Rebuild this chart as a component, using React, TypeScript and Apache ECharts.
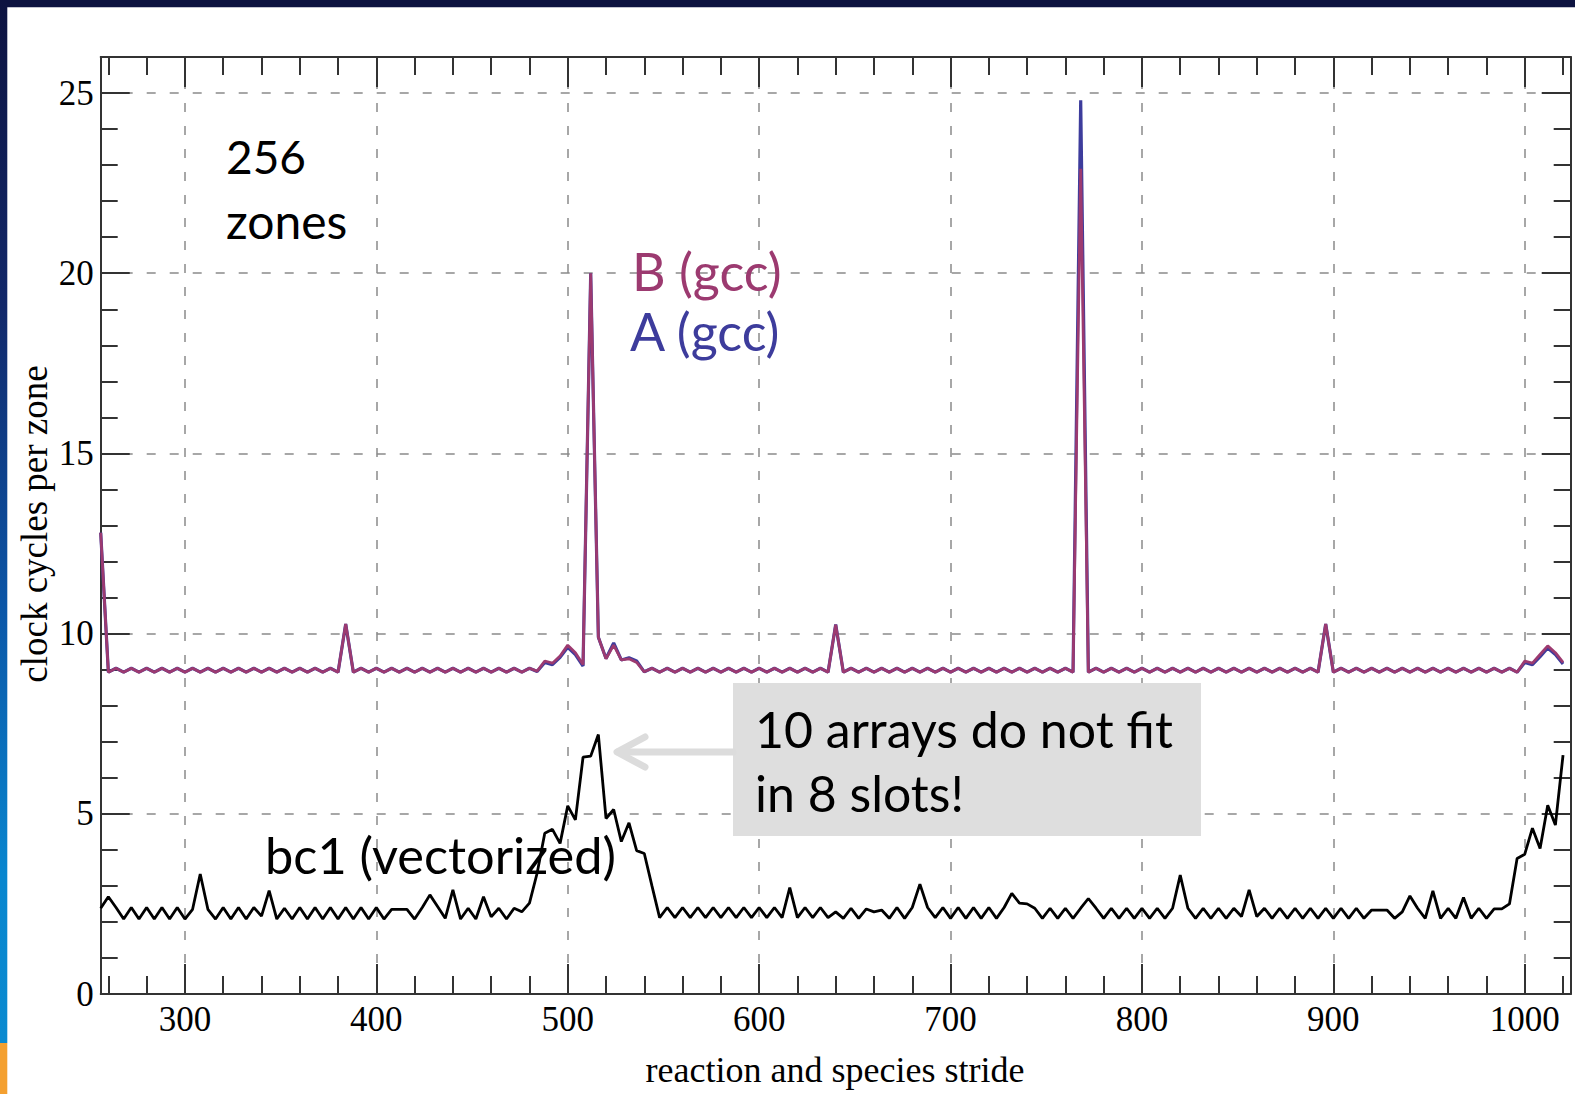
import React, { useEffect, useRef } from "react";
import * as echarts from "echarts";

// reaction and species stride (x)
const strides = [
  256, 260, 264, 268, 272, 276, 280, 284,
  288, 292, 296, 300, 304, 308, 312, 316,
  320, 324, 328, 332, 336, 340, 344, 348,
  352, 356, 360, 364, 368, 372, 376, 380,
  384, 388, 392, 396, 400, 404, 408, 412,
  416, 420, 424, 428, 432, 436, 440, 444,
  448, 452, 456, 460, 464, 468, 472, 476,
  480, 484, 488, 492, 496, 500, 504, 508,
  512, 516, 520, 524, 528, 532, 536, 540,
  544, 548, 552, 556, 560, 564, 568, 572,
  576, 580, 584, 588, 592, 596, 600, 604,
  608, 612, 616, 620, 624, 628, 632, 636,
  640, 644, 648, 652, 656, 660, 664, 668,
  672, 676, 680, 684, 688, 692, 696, 700,
  704, 708, 712, 716, 720, 724, 728, 732,
  736, 740, 744, 748, 752, 756, 760, 764,
  768, 772, 776, 780, 784, 788, 792, 796,
  800, 804, 808, 812, 816, 820, 824, 828,
  832, 836, 840, 844, 848, 852, 856, 860,
  864, 868, 872, 876, 880, 884, 888, 892,
  896, 900, 904, 908, 912, 916, 920, 924,
  928, 932, 936, 940, 944, 948, 952, 956,
  960, 964, 968, 972, 976, 980, 984, 988,
  992, 996, 1000, 1004, 1008, 1012, 1016, 1020,
];

// A (gcc)
const gccA = [
  12.8, 8.93, 9.04, 8.93, 9.04, 8.93, 9.04, 8.93,
  9.04, 8.93, 9.04, 8.93, 9.04, 8.93, 9.04, 8.93,
  9.04, 8.93, 9.04, 8.93, 9.04, 8.93, 9.04, 8.93,
  9.04, 8.93, 9.04, 8.93, 9.04, 8.93, 9.04, 8.93,
  10.27, 8.93, 9.04, 8.93, 9.04, 8.93, 9.04, 8.93,
  9.04, 8.93, 9.04, 8.93, 9.04, 8.93, 9.04, 8.93,
  9.04, 8.93, 9.04, 8.93, 9.04, 8.93, 9.04, 8.93,
  9.04, 8.95, 9.2, 9.14, 9.34, 9.62, 9.42, 9.1,
  20.0, 9.9, 9.31, 9.74, 9.27, 9.33, 9.24, 8.94,
  9.04, 8.93, 9.04, 8.93, 9.04, 8.93, 9.04, 8.93,
  9.04, 8.93, 9.04, 8.93, 9.04, 8.93, 9.04, 8.93,
  9.04, 8.93, 9.04, 8.93, 9.04, 8.93, 9.04, 8.93,
  10.25, 8.93, 9.04, 8.93, 9.04, 8.93, 9.04, 8.93,
  9.04, 8.93, 9.04, 8.93, 9.04, 8.93, 9.04, 8.93,
  9.04, 8.93, 9.04, 8.93, 9.04, 8.93, 9.04, 8.93,
  9.04, 8.93, 9.04, 8.93, 9.04, 8.93, 9.04, 8.93,
  24.8, 8.93, 9.04, 8.93, 9.04, 8.93, 9.04, 8.93,
  9.04, 8.93, 9.04, 8.93, 9.04, 8.93, 9.04, 8.93,
  9.04, 8.93, 9.04, 8.93, 9.04, 8.93, 9.04, 8.93,
  9.04, 8.93, 9.04, 8.93, 9.04, 8.93, 9.04, 8.93,
  10.27, 8.93, 9.04, 8.93, 9.04, 8.93, 9.04, 8.93,
  9.04, 8.93, 9.04, 8.93, 9.04, 8.93, 9.04, 8.93,
  9.04, 8.93, 9.04, 8.93, 9.04, 8.93, 9.04, 8.93,
  9.04, 8.93, 9.2, 9.14, 9.36, 9.6, 9.42, 9.16,
];

// B (gcc)
const gccB = [
  12.8, 8.93, 9.04, 8.93, 9.04, 8.93, 9.04, 8.93,
  9.04, 8.93, 9.04, 8.93, 9.04, 8.93, 9.04, 8.93,
  9.04, 8.93, 9.04, 8.93, 9.04, 8.93, 9.04, 8.93,
  9.04, 8.93, 9.04, 8.93, 9.04, 8.93, 9.04, 8.93,
  10.27, 8.93, 9.04, 8.93, 9.04, 8.93, 9.04, 8.93,
  9.04, 8.93, 9.04, 8.93, 9.04, 8.93, 9.04, 8.93,
  9.04, 8.93, 9.04, 8.93, 9.04, 8.93, 9.04, 8.93,
  9.04, 8.96, 9.24, 9.18, 9.38, 9.68, 9.47, 9.14,
  20.0, 9.9, 9.3, 9.68, 9.27, 9.3, 9.2, 8.94,
  9.04, 8.93, 9.04, 8.93, 9.04, 8.93, 9.04, 8.93,
  9.04, 8.93, 9.04, 8.93, 9.04, 8.93, 9.04, 8.93,
  9.04, 8.93, 9.04, 8.93, 9.04, 8.93, 9.04, 8.93,
  10.25, 8.93, 9.04, 8.93, 9.04, 8.93, 9.04, 8.93,
  9.04, 8.93, 9.04, 8.93, 9.04, 8.93, 9.04, 8.93,
  9.04, 8.93, 9.04, 8.93, 9.04, 8.93, 9.04, 8.93,
  9.04, 8.93, 9.04, 8.93, 9.04, 8.93, 9.04, 8.93,
  22.9, 8.93, 9.04, 8.93, 9.04, 8.93, 9.04, 8.93,
  9.04, 8.93, 9.04, 8.93, 9.04, 8.93, 9.04, 8.93,
  9.04, 8.93, 9.04, 8.93, 9.04, 8.93, 9.04, 8.93,
  9.04, 8.93, 9.04, 8.93, 9.04, 8.93, 9.04, 8.93,
  10.27, 8.93, 9.04, 8.93, 9.04, 8.93, 9.04, 8.93,
  9.04, 8.93, 9.04, 8.93, 9.04, 8.93, 9.04, 8.93,
  9.04, 8.93, 9.04, 8.93, 9.04, 8.93, 9.04, 8.93,
  9.04, 8.93, 9.24, 9.18, 9.42, 9.66, 9.47, 9.2,
];

// bc1 (vectorized)
const bc1 = [
  2.38, 2.7, 2.4, 2.08, 2.4, 2.08, 2.4, 2.08,
  2.4, 2.08, 2.4, 2.08, 2.35, 3.33, 2.35, 2.08,
  2.4, 2.08, 2.4, 2.08, 2.4, 2.16, 2.87, 2.08,
  2.38, 2.08, 2.4, 2.08, 2.4, 2.08, 2.4, 2.08,
  2.4, 2.08, 2.4, 2.08, 2.4, 2.08, 2.35, 2.35,
  2.35, 2.08, 2.4, 2.75, 2.43, 2.1, 2.89, 2.08,
  2.38, 2.08, 2.7, 2.14, 2.38, 2.08, 2.38, 2.28,
  2.52, 3.35, 4.46, 4.57, 4.18, 5.22, 4.83, 6.57,
  6.6, 7.2, 4.87, 5.12, 4.23, 4.75, 3.98, 3.9,
  3.0, 2.12, 2.4, 2.12, 2.4, 2.12, 2.4, 2.12,
  2.4, 2.12, 2.4, 2.12, 2.4, 2.12, 2.4, 2.12,
  2.4, 2.12, 2.95, 2.12, 2.4, 2.12, 2.4, 2.12,
  2.28, 2.1, 2.38, 2.1, 2.36, 2.28, 2.33, 2.1,
  2.4, 2.1, 2.4, 3.05, 2.4, 2.12, 2.4, 2.1,
  2.4, 2.1, 2.4, 2.1, 2.4, 2.1, 2.4, 2.79,
  2.52, 2.5, 2.38, 2.1, 2.38, 2.1, 2.38, 2.1,
  2.38, 2.65, 2.38, 2.1, 2.38, 2.1, 2.38, 2.1,
  2.38, 2.1, 2.38, 2.1, 2.38, 3.3, 2.38, 2.1,
  2.38, 2.1, 2.38, 2.1, 2.38, 2.15, 2.89, 2.15,
  2.38, 2.1, 2.38, 2.1, 2.38, 2.1, 2.38, 2.1,
  2.38, 2.1, 2.38, 2.1, 2.38, 2.1, 2.33, 2.33,
  2.33, 2.1, 2.28, 2.72, 2.38, 2.1, 2.86, 2.1,
  2.38, 2.1, 2.68, 2.1, 2.38, 2.1, 2.36, 2.36,
  2.5, 3.76, 3.88, 4.6, 4.04, 5.24, 4.69, 6.63,
];

const xMajorTicks = [300, 400, 500, 600, 700, 800, 900, 1000];
const xMinorTicks = [
  260, 280, 320, 340, 360, 380, 420, 440, 460, 480, 520, 540, 560, 580,
  620, 640, 660, 680, 720, 740, 760, 780, 820, 840, 860, 880, 920, 940,
  960, 980, 1020,
];
const yMajorTicks = [5, 10, 15, 20, 25];
const yTickLabels = [0, 5, 10, 15, 20, 25];
const yMinorTicks = [1, 2, 3, 4, 6, 7, 8, 9, 11, 12, 13, 14, 16, 17, 18, 19, 21, 22, 23, 24];

const COLOR_A = "#3d3c9c";
const COLOR_B = "#9c3a70";
const FRAME = "#333333";
const SERIF = "'Liberation Serif', 'Times New Roman', serif";
const SANS = "Lato, 'Open Sans', sans-serif";

function tickAxis(
  position: string,
  ticks: number[],
  length: number,
  withLine: boolean,
  labels: number[] | null,
  grid: boolean,
  min: number,
  max: number,
  margin: number
) {
  return {
    type: "value",
    position,
    min,
    max,
    axisLine: { show: withLine, onZero: false, lineStyle: { color: FRAME, width: 2 } },
    axisTick: {
      show: true,
      inside: true,
      length,
      customValues: ticks,
      lineStyle: { color: FRAME, width: 2 },
    },
    axisLabel: labels
      ? {
          show: true,
          customValues: labels,
          margin,
          color: "#000",
          fontFamily: SERIF,
          fontSize: 35,
          formatter: (v: number) => String(v),
        }
      : { show: false },
    splitLine: grid
      ? { show: true, lineStyle: { color: "#8a8a8a", width: 1.5, type: [9, 14] } }
      : { show: false },
    minorTick: { show: false },
    minorSplitLine: { show: false },
  };
}

export default function App() {
  const ref = useRef<HTMLDivElement>(null);

  useEffect(() => {
    if (!ref.current) return;
    const chart = echarts.init(ref.current, undefined, { renderer: "svg" });

    const leftBand = new echarts.graphic.LinearGradient(0, 0, 0, 1, [
      { offset: 0, color: "#0d1340" },
      { offset: 0.28, color: "#12286a" },
      { offset: 0.55, color: "#0b55a6" },
      { offset: 0.8, color: "#0886cf" },
      { offset: 0.953, color: "#0a8ad0" },
      { offset: 0.953, color: "#f4a030" },
      { offset: 1, color: "#f4a030" },
    ]);

    const option = {
      animation: false,
      backgroundColor: "#ffffff",
      grid: {
        left: 100.7,
        right: 4.3,
        top: 57,
        bottom: 100,
        containLabel: false,
        outerBoundsMode: "none",
      },
      xAxis: [
        tickAxis("bottom", xMajorTicks, 30, true, xMajorTicks, true, 256, 1024, 8),
        tickAxis("bottom", xMinorTicks, 18, false, null, false, 256, 1024, 8),
        tickAxis("top", xMajorTicks, 30, true, null, false, 256, 1024, 8),
        tickAxis("top", xMinorTicks, 18, false, null, false, 256, 1024, 8),
      ],
      yAxis: [
        tickAxis("left", yMajorTicks, 29, true, yTickLabels, true, 0, 26, 7),
        tickAxis("left", yMinorTicks, 17, false, null, false, 0, 26, 7),
        tickAxis("right", yMajorTicks, 29, true, null, false, 0, 26, 7),
        tickAxis("right", yMinorTicks, 17, false, null, false, 0, 26, 7),
      ],
      series: [
        {
          name: "A (gcc)",
          type: "line",
          xAxisIndex: 0,
          yAxisIndex: 0,
          data: strides.map((s, i) => [s, gccA[i]]),
          showSymbol: false,
          symbol: "none",
          lineStyle: { color: COLOR_A, width: 3.2 },
          z: 3,
        },
        {
          name: "B (gcc)",
          type: "line",
          xAxisIndex: 0,
          yAxisIndex: 0,
          data: strides.map((s, i) => [s, gccB[i]]),
          showSymbol: false,
          symbol: "none",
          lineStyle: { color: COLOR_B, width: 2.8 },
          z: 4,
        },
        {
          name: "bc1 (vectorized)",
          type: "line",
          xAxisIndex: 0,
          yAxisIndex: 0,
          data: strides.map((s, i) => [s, bc1[i]]),
          showSymbol: false,
          symbol: "none",
          lineStyle: { color: "#000000", width: 2.8 },
          z: 5,
        },
      ],
      graphic: [
        { type: "rect", z: 1, shape: { x: 0, y: 0, width: 1575, height: 7.3 }, style: { fill: "#0d1340" } },
        { type: "rect", z: 1, shape: { x: 0, y: 0, width: 7.3, height: 1094 }, style: { fill: leftBand } },
        {
          type: "rect",
          z: 10,
          shape: { x: 733, y: 683, width: 468, height: 153 },
          style: { fill: "#dedede" },
        },
        {
          type: "line",
          z: 10,
          shape: { x1: 733, y1: 752, x2: 618, y2: 752 },
          style: { stroke: "#dcdcdc", lineWidth: 7, lineCap: "round" },
        },
        {
          type: "polyline",
          z: 10,
          shape: { points: [[645, 737], [617, 752], [645, 767]] },
          style: { stroke: "#dcdcdc", lineWidth: 7, lineCap: "round", lineJoin: "round", fill: "none" },
        },
        {
          type: "text",
          z: 20,
          x: 226,
          y: 156,
          style: { text: "256", fontFamily: SANS, fontSize: 46, fill: "#000", align: "left", verticalAlign: "middle" },
        },
        {
          type: "text",
          z: 20,
          x: 226,
          y: 220,
          style: { text: "zones", fontFamily: SANS, fontSize: 48, fill: "#000", align: "left", verticalAlign: "middle" },
        },
        {
          type: "text",
          z: 20,
          x: 632,
          y: 271,
          style: { text: "B (gcc)", fontFamily: SANS, fontSize: 52, fill: COLOR_B, align: "left", verticalAlign: "middle" },
        },
        {
          type: "text",
          z: 20,
          x: 630,
          y: 331,
          style: { text: "A (gcc)", fontFamily: SANS, fontSize: 52, fill: COLOR_A, align: "left", verticalAlign: "middle" },
        },
        {
          type: "text",
          z: 20,
          x: 265,
          y: 854,
          style: { text: "bc1 (vectorized)", fontFamily: SANS, fontSize: 50.5, fill: "#000", align: "left", verticalAlign: "middle" },
        },
        {
          type: "text",
          z: 20,
          x: 755,
          y: 729,
          style: { text: "10 arrays do not fit", fontFamily: SANS, fontSize: 50, fill: "#000", align: "left", verticalAlign: "middle" },
        },
        {
          type: "text",
          z: 20,
          x: 755,
          y: 793,
          style: { text: "in 8 slots!", fontFamily: SANS, fontSize: 50, fill: "#000", align: "left", verticalAlign: "middle" },
        },
        {
          type: "text",
          z: 20,
          x: 835,
          y: 1070,
          style: {
            text: "reaction and species stride",
            fontFamily: SERIF,
            fontSize: 36,
            fill: "#000",
            align: "center",
            verticalAlign: "middle",
          },
        },
        {
          type: "text",
          z: 20,
          x: 34,
          y: 524,
          rotation: Math.PI / 2,
          style: {
            text: "clock cycles per zone",
            fontFamily: SERIF,
            fontSize: 37,
            fill: "#000",
            align: "center",
            verticalAlign: "middle",
          },
        },
      ],
    };

    chart.setOption(option as any);
    return () => {
      chart.dispose();
    };
  }, []);

  return (
    <div
      ref={ref}
      style={{ position: "fixed", left: 0, top: 0, width: 1575, height: 1094 }}
    />
  );
}
